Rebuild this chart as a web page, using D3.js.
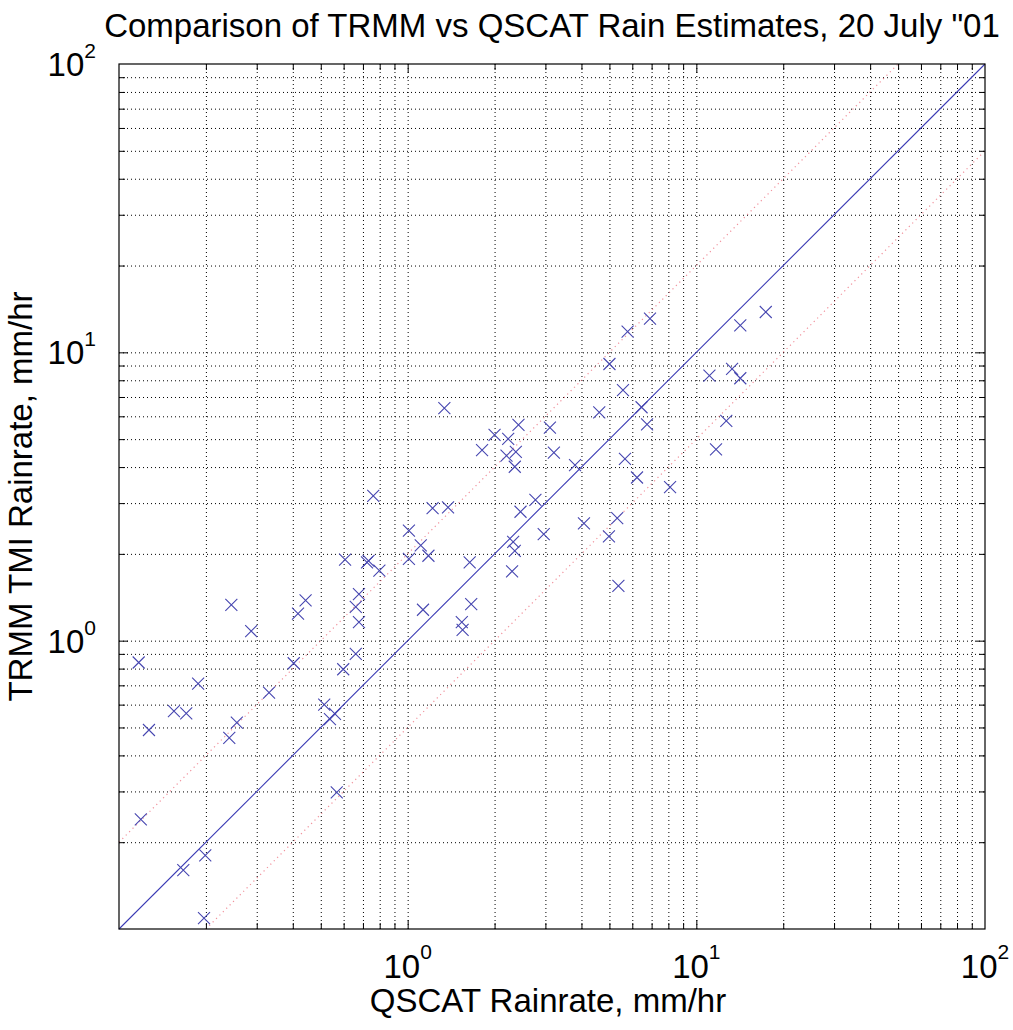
<!DOCTYPE html>
<html>
<head>
<meta charset="utf-8">
<script src="https://cdn.jsdelivr.net/npm/d3@7"></script>
<style>
body { margin: 0; background: #fff; }
text { font-family: "Liberation Sans", Arial, Helvetica, sans-serif; fill: #000; }
.grid line { stroke: #000; stroke-width: 1; stroke-dasharray: 1,3; }
.grid path { display: none; }
.ticks line { stroke: #000; stroke-width: 1; }
.ticks path { display: none; }
</style>
</head>
<body>
<div id="chart"></div>
<script>
// rain rates, mm/hr
var qscat = [0.117, 0.127, 0.119, 0.155, 0.171, 0.188, 0.167, 0.199, 0.197, 0.245,
             0.241, 0.256, 0.287, 0.331, 0.403, 0.417, 0.443, 0.514, 0.56, 0.538,
             0.568, 0.598, 0.661, 0.678, 0.661, 0.678, 0.607, 0.723, 0.732, 0.76,
             0.798, 1.01, 1.01, 1.11, 1.18, 1.13, 1.22, 1.38, 1.34, 1.54,
             1.55, 1.64, 1.66, 1.81, 2.00, 2.23, 2.20, 2.37, 2.35, 2.42,
             2.32, 2.35, 2.30, 2.46, 2.77, 2.96, 3.11, 3.21, 3.80, 4.08,
             4.61, 5.00, 4.98, 5.32, 5.37, 5.57, 5.66, 5.78, 6.23, 6.46,
             6.75, 6.91, 8.11, 11.1, 11.7, 12.7, 13.3, 14.2, 14.2, 17.4];
var trmm  = [0.84, 0.49, 0.24, 0.57, 0.56, 0.71, 0.16, 0.18, 0.109, 1.33,
             0.46, 0.52, 1.08, 0.66, 0.835, 1.24, 1.38, 0.60, 0.557, 0.534,
             0.298, 0.796, 0.90, 1.16, 1.31, 1.45, 1.91, 1.87, 1.89, 3.18,
             1.75, 1.92, 2.41, 2.14, 1.97, 1.28, 2.88, 2.90, 6.40, 1.16,
             1.09, 1.87, 1.34, 4.58, 5.17, 5.01, 4.38, 4.52, 4.01, 5.60,
             2.20, 2.05, 1.74, 2.80, 3.08, 2.34, 5.48, 4.49, 4.06, 2.55,
             6.19, 9.11, 2.30, 2.66, 1.55, 7.40, 4.27, 11.8, 3.68, 6.45,
             5.63, 13.1, 3.41, 8.30, 4.61, 5.78, 8.76, 12.4, 8.13, 13.8];
var refRatios = [0.5, 1, 2];   // lines y = r*x
var decades = [0.1, 1, 10];
var xTickExps = [0, 1, 2];
var yTickExps = [0, 1, 2];
var titleText = 'Comparison of TRMM vs QSCAT Rain Estimates, 20 July "01';
var xLabel = "QSCAT Rainrate, mm/hr";
var yLabel = "TRMM TMI Rainrate, mm/hr";

var margin = {top: 64, right: 28, bottom: 101, left: 119},
    width = 1013 - margin.left - margin.right,
    height = 1030 - margin.top - margin.bottom;

var x = d3.scaleLog().domain([0.1, 100]).range([0, width]);
var y = d3.scaleLog().domain([0.1, 100]).range([height, 0]);

// 2..9 between every decade, plus the decades inside the box
var gridVals = [];
decades.forEach(function(d) {
    for (var m = 1; m <= 9; m++) {
        var v = d * m;
        if (v > 0.1 && v < 100) gridVals.push(v);
    }
});

var svg = d3.select("#chart").append("svg")
    .attr("width", 1013)
    .attr("height", 1030)
    .style("background", "#fff");

var g = svg.append("g")
    .attr("transform", "translate(" + margin.left + "," + margin.top + ")");

// dotted grid
g.append("g").attr("class", "grid")
    .attr("transform", "translate(0," + height + ")")
    .call(d3.axisBottom(x).tickValues(gridVals).tickSize(-height).tickFormat(""));
g.append("g").attr("class", "grid")
    .call(d3.axisLeft(y).tickValues(gridVals).tickSize(-width).tickFormat(""));

// reference lines
var line = d3.line()
    .x(function(d) { return x(d[0]); })
    .y(function(d) { return y(d[1]); });

refRatios.forEach(function(r) {
    var lo = Math.max(0.1, 0.1 / r), hi = Math.min(100, 100 / r);
    g.append("path")
        .datum([[lo, lo * r], [hi, hi * r]])
        .attr("d", line)
        .attr("fill", "none")
        .attr("stroke", r === 1 ? "#3a3ab4" : "#e8485a")
        .attr("stroke-width", r === 1 ? 1.1 : 1.2)
        .attr("stroke-dasharray", r === 1 ? null : "1.2,3.6")
        .attr("opacity", r === 1 ? 1 : 0.6);
});

// x markers
var pts = qscat.map(function(q, i) { return {q: q, t: trmm[i]}; });
g.selectAll(".pt")
    .data(pts)
    .enter().append("path")
    .attr("class", "pt")
    .attr("transform", function(d) { return "translate(" + x(d.q) + "," + y(d.t) + ")"; })
    .attr("d", "M-6,-6L6,6M-6,6L6,-6")
    .attr("fill", "none")
    .attr("stroke", "#4646b0")
    .attr("stroke-width", 1.1);

// inward ticks on all four sides
var tickLen = function(d) { return decades.indexOf(d) >= 0 ? 9 : 6; };
[["b", d3.axisBottom(x), "translate(0," + height + ")"],
 ["t", d3.axisTop(x), null],
 ["l", d3.axisLeft(y), null],
 ["r", d3.axisRight(y), "translate(" + width + ",0)"]].forEach(function(a) {
    var ax = g.append("g").attr("class", "ticks")
        .attr("transform", a[2])
        .call(a[1].tickValues(gridVals).tickSizeInner(-6).tickSizeOuter(0).tickFormat(""));
    ax.selectAll(".tick line").each(function(d) {
        var s = d3.select(this), k = (a[0] === "b" || a[0] === "r") ? -1 : 1;
        if (a[0] === "b" || a[0] === "t") s.attr("y2", k * tickLen(d));
        else s.attr("x2", k * tickLen(d));
    });
});

// box
g.append("rect")
    .attr("width", width)
    .attr("height", height)
    .attr("fill", "none")
    .attr("stroke", "#000")
    .attr("stroke-width", 1.2);

// tick labels, 10 with superscript exponent
var xl = g.selectAll(".xl")
    .data(xTickExps)
    .enter().append("text")
    .attr("class", "xl")
    .attr("x", function(e) { return x(Math.pow(10, e)); })
    .attr("y", height + 49)
    .attr("text-anchor", "middle")
    .style("font-size", "33px")
    .text("10");
xl.append("tspan")
    .attr("dy", -19)
    .style("font-size", "21px")
    .text(function(e) { return e; });

var yl = g.selectAll(".yl")
    .data(yTickExps)
    .enter().append("text")
    .attr("class", "yl")
    .attr("x", -23)
    .attr("y", function(e) { return y(Math.pow(10, e)) + 12; })
    .attr("text-anchor", "end")
    .style("font-size", "33px")
    .text("10");
yl.append("tspan")
    .attr("dy", -18)
    .style("font-size", "21px")
    .text(function(e) { return e; });

// title and axis labels
svg.append("text")
    .attr("x", margin.left + width / 2)
    .attr("y", 37)
    .attr("text-anchor", "middle")
    .style("font-size", "33px")
    .text(titleText);

svg.append("text")
    .attr("x", 548)
    .attr("y", 1012)
    .attr("text-anchor", "middle")
    .style("font-size", "33px")
    .text(xLabel);

svg.append("text")
    .attr("transform", "translate(32," + (margin.top + height / 2) + ") rotate(-90)")
    .attr("text-anchor", "middle")
    .style("font-size", "33px")
    .text(yLabel);
</script>
</body>
</html>
